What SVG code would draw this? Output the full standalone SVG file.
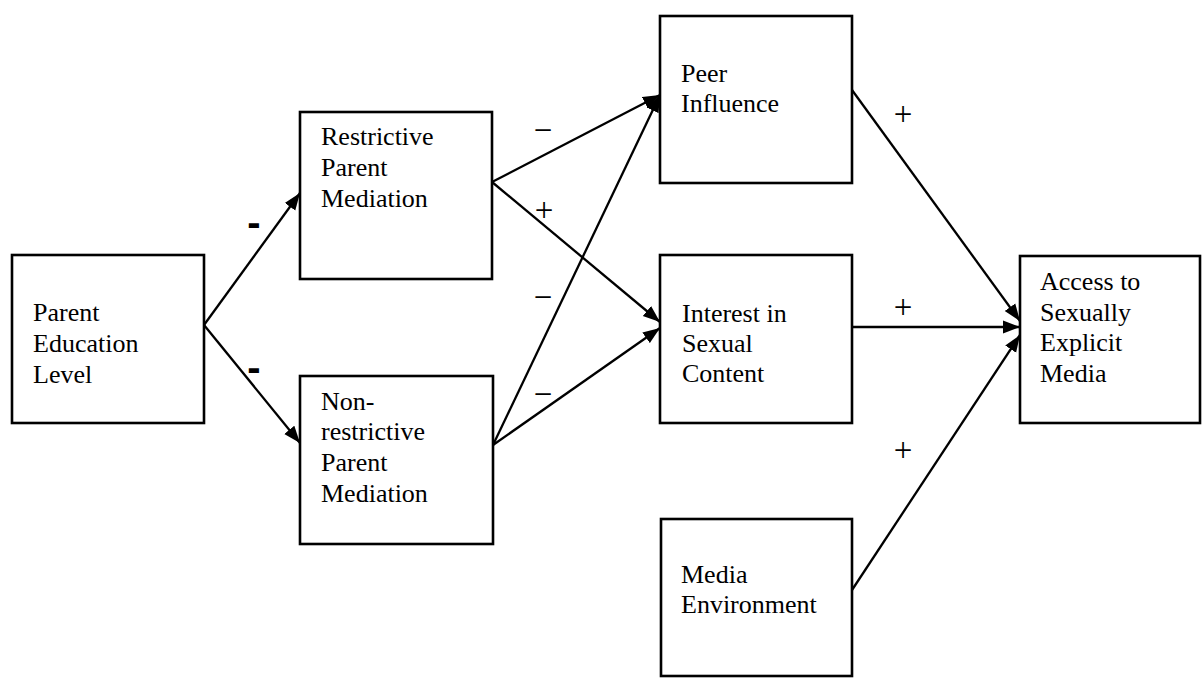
<svg xmlns="http://www.w3.org/2000/svg" width="1203" height="680" viewBox="0 0 1203 680">
<defs>
<marker id="ah" markerUnits="userSpaceOnUse" markerWidth="19" markerHeight="14" refX="17" refY="7" orient="auto">
<path d="M0,0.5 L17,7 L0,13.5 z" fill="#000"/>
</marker>
<style>
.box{fill:#fff;stroke:#000;stroke-width:2.6}
.t{font-family:"Liberation Serif","Times New Roman",serif;font-size:26px;fill:#000}
.c{stroke:#000;stroke-width:2.3;fill:none}
.s{font-family:"Liberation Serif","Times New Roman",serif;font-size:33px;fill:#000;text-anchor:middle}
.h{font-family:"Liberation Sans",Arial,sans-serif;font-size:40px;font-weight:bold;fill:#000;text-anchor:middle}
</style>
</defs>
<rect width="1203" height="680" fill="#fff"/>
<g id="connectors">
<line class="c" x1="204" y1="325" x2="300" y2="193" marker-end="url(#ah)"/>
<line class="c" x1="204" y1="325" x2="300" y2="443" marker-end="url(#ah)"/>
<line class="c" x1="492" y1="182" x2="660" y2="95" marker-end="url(#ah)"/>
<line class="c" x1="492" y1="182" x2="660" y2="322" marker-end="url(#ah)"/>
<line class="c" x1="493" y1="445" x2="660" y2="95" marker-end="url(#ah)"/>
<line class="c" x1="493" y1="445" x2="660" y2="328" marker-end="url(#ah)"/>
<line class="c" x1="852" y1="90" x2="1020" y2="321" marker-end="url(#ah)"/>
<line class="c" x1="852" y1="327" x2="1020" y2="327" marker-end="url(#ah)"/>
<line class="c" x1="852" y1="590" x2="1020" y2="335" marker-end="url(#ah)"/>
<text class="h" x="254" y="236">-</text>
<text class="h" x="254" y="381">-</text>
<text class="s" x="543" y="141">−</text>
<text class="s" x="544" y="221">+</text>
<text class="s" x="543" y="308">−</text>
<text class="s" x="543" y="405">−</text>
<text class="s" x="903" y="125">+</text>
<text class="s" x="903" y="318">+</text>
<text class="s" x="903" y="461">+</text>
</g>
<g id="parent-education">
<rect class="box" x="12" y="255" width="192" height="168"/>
<text class="t" x="33" y="321">Parent</text>
<text class="t" x="33" y="352">Education</text>
<text class="t" x="33" y="383">Level</text>
</g>
<g id="restrictive">
<rect class="box" x="300" y="112" width="192" height="167"/>
<text class="t" x="321" y="145">Restrictive</text>
<text class="t" x="321" y="176">Parent</text>
<text class="t" x="321" y="207">Mediation</text>
</g>
<g id="non-restrictive">
<rect class="box" x="300" y="376" width="193" height="168"/>
<text class="t" x="321" y="410">Non-</text>
<text class="t" x="321" y="440">restrictive</text>
<text class="t" x="321" y="471">Parent</text>
<text class="t" x="321" y="502">Mediation</text>
</g>
<g id="peer-influence">
<rect class="box" x="660" y="16" width="192" height="167"/>
<text class="t" x="681" y="82">Peer</text>
<text class="t" x="681" y="112">Influence</text>
</g>
<g id="interest">
<rect class="box" x="660" y="255" width="192" height="168"/>
<text class="t" x="682" y="322">Interest in</text>
<text class="t" x="682" y="352">Sexual</text>
<text class="t" x="682" y="382">Content</text>
</g>
<g id="media-environment">
<rect class="box" x="661" y="519" width="191" height="157"/>
<text class="t" x="681" y="583">Media</text>
<text class="t" x="681" y="613">Environment</text>
</g>
<g id="access">
<rect class="box" x="1020" y="256" width="180" height="167"/>
<text class="t" x="1040" y="290">Access to</text>
<text class="t" x="1040" y="321">Sexually</text>
<text class="t" x="1040" y="351">Explicit</text>
<text class="t" x="1040" y="382">Media</text>
</g>
</svg>
